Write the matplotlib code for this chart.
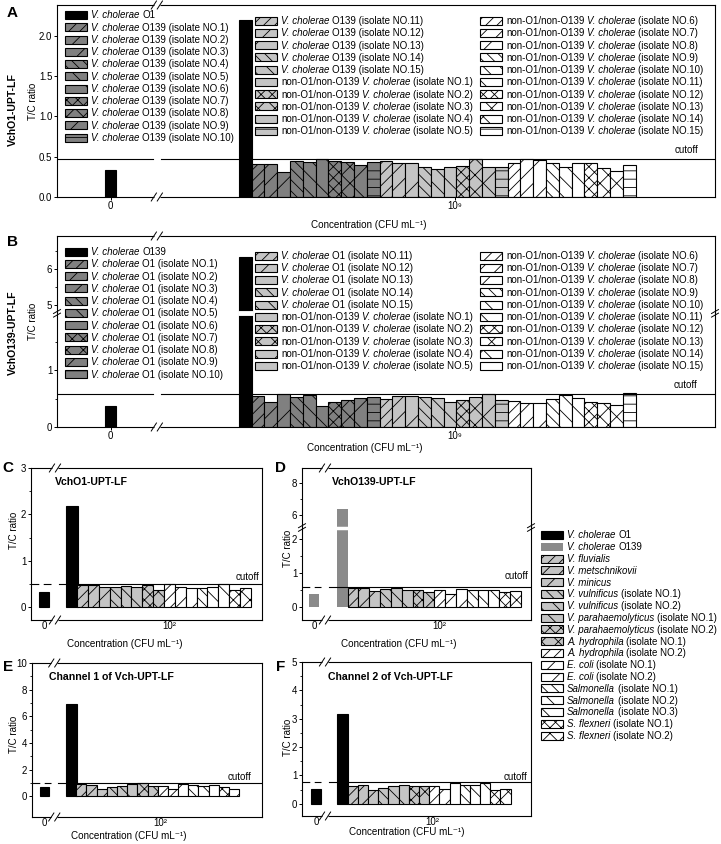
import numpy as np
import matplotlib
matplotlib.use('Agg')
import matplotlib.pyplot as plt
from matplotlib.patches import Rectangle

plt.rcParams.update({
    'font.family': ['Liberation Sans', 'DejaVu Sans'],
    'hatch.linewidth': 0.6,
    'axes.linewidth': 0.8,
    'xtick.labelsize': 7, 'ytick.labelsize': 7,
    'xtick.major.size': 2.0, 'ytick.major.size': 2.2,
    'ytick.minor.size': 1.4, 'xtick.minor.size': 0,
    'xtick.major.width': 0.7, 'ytick.major.width': 0.7, 'ytick.minor.width': 0.6,
    'xtick.major.pad': 1.2, 'ytick.major.pad': 1.2,
})

# ------------------------------------------------------------------ data
# Panel A : VchO1-UPT-LF, 10^9 CFU/mL
a_neg = 0.34
a_target = 2.19                       # V. cholerae O1
a_o139 = [0.414, 0.405, 0.31, 0.45, 0.435, 0.47, 0.447, 0.43, 0.40, 0.435,
          0.443, 0.418, 0.42, 0.37, 0.35]
a_non = [0.37, 0.39, 0.467, 0.37, 0.377, 0.418, 0.465, 0.46, 0.418, 0.377,
         0.42, 0.418, 0.36, 0.328, 0.398]
a_cutoff = 0.47

# Panel B : VchO139-UPT-LF, 10^9 CFU/mL
b_neg = 0.37
b_target = 6.35                       # V. cholerae O139
b_o1 = [0.547, 0.435, 0.576, 0.535, 0.565, 0.376, 0.447, 0.476, 0.506, 0.535,
        0.488, 0.553, 0.553, 0.535, 0.506]
b_non = [0.435, 0.476, 0.535, 0.576, 0.476, 0.465, 0.43, 0.418, 0.488, 0.565,
         0.506, 0.447, 0.418, 0.388, 0.60]
b_cutoff = 0.59

# Panels C-F : other species, 10^9 CFU/mL
species_names = ['V. fluvialis', 'V. metschnikovii', 'V. minicus',
                 'V. vulnificus', 'V. vulnificus',
                 'V. parahaemolyticus', 'V. parahaemolyticus',
                 'A. hydrophila', 'A. hydrophila', 'E. coli', 'E. coli',
                 'Salmonella', 'Salmonella', 'Salmonella',
                 'S. flexneri', 'S. flexneri']
species_isolates = ['', '', '', '(isolate NO.1)', '(isolate NO.2)',
                    '(isolate NO.1)', '(isolate NO.2)', '(isolate NO.1)', '(isolate NO.2)',
                    '(isolate NO.1)', '(isolate NO.2)', '(isolate NO.1)', '(isolate NO.2)',
                    '(isolate NO.3)', '(isolate NO.1)', '(isolate NO.2)']
c_neg, c_target, c_cutoff = 0.33, 2.19, 0.50
c_vals = [0.486, 0.486, 0.43, 0.43, 0.457, 0.43, 0.48, 0.37,
          0.50, 0.43, 0.42, 0.42, 0.436, 0.51, 0.386, 0.41]
d_neg, d_target, d_cutoff = 0.39, 6.36, 0.61
d_vals = [0.56, 0.58, 0.47, 0.53, 0.56, 0.50, 0.52, 0.44,
          0.50, 0.39, 0.53, 0.50, 0.50, 0.52, 0.46, 0.47]
e_neg, e_target, e_cutoff = 0.70, 6.95, 1.0
e_vals = [0.90, 0.85, 0.58, 0.70, 0.80, 0.90, 1.00, 0.80,
          0.80, 0.58, 0.95, 0.85, 0.80, 0.85, 0.70, 0.58]
f_neg, f_target, f_cutoff = 0.52, 3.16, 0.76
f_vals = [0.62, 0.66, 0.50, 0.57, 0.64, 0.66, 0.63, 0.64,
          0.62, 0.52, 0.73, 0.66, 0.66, 0.75, 0.48, 0.53]

# ------------------------------------------------------------------ figure
W, H = 721, 844
fig = plt.figure(figsize=(W / 100, H / 100), dpi=100)
RND = fig.canvas.get_renderer()


def add_ax(l, t, r, b):
    return fig.add_axes([l / W, 1 - b / H, (r - l) / W, (b - t) / H])


def fx(px):
    return px / W


def fy(py):
    return 1 - py / H


PAT10 = ['///', '//', '/', '\\\\\\', '\\\\', '\\', 'xxx', 'xx', 'x', '--']
PAT8 = ['///', '//', '/', '\\\\\\', '\\\\', '\\', 'xxx', 'xx']
DARK = '#808080'
LIGHT = '#c4c4c4'
O139GREY = '#8a8a8a'
EW = 0.8


def break_scale(b1, b2, k, eps=1e-3):
    c = b1 + (b2 - b1) * eps

    def fwd(y):
        y = np.asarray(y, dtype=float)
        return np.where(y <= b1, y, np.where(y < b2, b1 + (y - b1) * eps, c + (y - b2) * k))

    def inv(z):
        z = np.asarray(z, dtype=float)
        return np.where(z <= b1, z, np.where(z < c, b1 + (z - b1) / eps, b2 + (z - c) / k))
    return fwd, inv


def ax_px(ax):
    bb = ax.get_position()
    return bb.width * W, bb.height * H


def xbreak(ax, xb):
    wpx, hpx = ax_px(ax)
    x0, x1 = ax.get_xlim()
    xa = (xb - x0) / (x1 - x0)
    g = 3.0 / wpx
    w = 2.6 / wpx
    h = 4.0 / hpx
    for ya in (0, 1):
        ax.plot([xa - g, xa + g], [ya, ya], transform=ax.transAxes, color='white',
                lw=2.5, clip_on=False, zorder=10, solid_capstyle='butt')
        for s in (-g, g):
            ax.plot([xa + s - w, xa + s + w], [ya - h, ya + h], transform=ax.transAxes,
                    color='black', lw=0.7, clip_on=False, zorder=11)


def ybreak(ax, yb):
    wpx, hpx = ax_px(ax)
    ya = ax.transAxes.inverted().transform(ax.transData.transform((ax.get_xlim()[0], yb)))[1]
    w = 3.5 / wpx
    h = 2.0 / hpx
    s = 1.8 / hpx
    for xa in (0, 1):
        for o in (-s, s):
            ax.plot([xa - w, xa + w], [ya + o - h, ya + o + h], transform=ax.transAxes,
                    color='black', lw=0.7, clip_on=False, zorder=11)


def style_ax(ax):
    for sp in ax.spines.values():
        sp.set_linewidth(0.8)
    ax.tick_params(axis='both', which='both', direction='out')


def manual_legend(entries, x_icon, y_first, dy, fs=7.0, iw=22, ih=8, gap=4):
    """entries: list of (facecolor, hatch, edgecolor, [(text, italic), ...])"""
    sp = 0.278 * fs * 100 / 72
    for k, (fc, hatch, ec, parts) in enumerate(entries):
        yc = y_first + k * dy
        fig.add_artist(Rectangle((fx(x_icon), fy(yc + ih / 2)), iw / W, ih / H,
                                 transform=fig.transFigure, facecolor=fc, edgecolor=ec,
                                 hatch=hatch, linewidth=EW))
        x = x_icon + iw + gap
        for txt, it in parts:
            t = fig.text(fx(x), fy(yc + 3.4), txt, fontsize=fs,
                         style='italic' if it else 'normal', va='baseline', ha='left')
            x += t.get_window_extent(RND).width + sp


VCH = 'V. cholerae'

# ------------------------------------------------------------------ panels A, B


def wide_panel(ax, neg, target, g1, g2, cutoff, xt):
    X_NEG, XMIN, XMAX, XBRK = -10.5, -14.7, 36.7, -6.9
    ax.set_xlim(XMIN, XMAX)
    ax.bar(X_NEG, neg, width=0.85, color='black', edgecolor='black', linewidth=EW, zorder=2)
    ax.bar(0, target, width=1, color='black', edgecolor='black', linewidth=EW, zorder=2)
    styles = [('black', None, 'black')]
    vals = list(g1) + list(g2)
    for i, v in enumerate(vals):
        grp, j = divmod(i, 10)
        fc = [DARK, LIGHT, 'white'][grp]
        ax.bar(i + 1, v, width=1, facecolor=fc, edgecolor='black', hatch=PAT10[j],
               linewidth=EW, zorder=2)
        styles.append((fc, PAT10[j], 'black'))
    ax.plot([XMIN, XBRK - 0.3], [cutoff, cutoff], color='black', lw=0.8, zorder=4)
    ax.plot([XBRK + 0.3, XMAX], [cutoff, cutoff], color='black', lw=0.8, zorder=4)
    ax.set_xticks([X_NEG, 16.4], ['0', xt])
    style_ax(ax)
    xbreak(ax, XBRK)
    return styles


def wide_legends(styles, parts, y1, y23, dy=12.25):
    ents = [s + (p,) for s, p in zip(styles, parts)]
    manual_legend(ents[0:11], 65, y1, dy)
    manual_legend(ents[11:21], 255, y23, dy)
    manual_legend(ents[21:31], 480, y23, dy)


# A
axA = add_ax(57, 5, 715, 197)
axA.set_ylim(0, 2.38)
axA.set_yticks([0, 0.5, 1.0, 1.5, 2.0], ['0.0', '0.5', '1.0', '1.5', '2.0'])
stA = wide_panel(axA, a_neg, a_target, a_o139, a_non, a_cutoff, '10\u2079')
partsA = ([[(VCH, True), ('O1', False)]]
          + [[(VCH, True), ('O139 (isolate NO.%d)' % n, False)] for n in range(1, 16)]
          + [[('non-O1/non-O139', False), (VCH, True), ('(isolate NO.%d)' % n, False)]
             for n in range(1, 16)])
wide_legends(stA, partsA, 15, 20.7)

# B
axB = add_ax(57, 236, 715, 427)
axB.set_yscale('function', functions=break_scale(2.005, 4.77, 0.63))
axB.set_ylim(0, 6.93)
stB = wide_panel(axB, b_neg, b_target, b_o1, b_non, b_cutoff, '10\u2079')
axB.set_yticks([0, 1, 5, 6], ['0', '1', '5', '6'])
axB.set_yticks([0.5, 1.5, 5.5, 6.5], minor=True)
axB.plot([-0.6, 0.6], [2.005, 2.005], color='white', lw=3.5, zorder=5, solid_capstyle='butt')
ybreak(axB, 2.005)
partsB = ([[(VCH, True), ('O139', False)]]
          + [[(VCH, True), ('O1 (isolate NO.%d)' % n, False)] for n in range(1, 16)]
          + [[('non-O1/non-O139', False), (VCH, True), ('(isolate NO.%d)' % n, False)]
             for n in range(1, 16)])
wide_legends(stB, partsB, 251.7, 255.5)

# ------------------------------------------------------------------ panels C-F


def narrow_panel(ax, neg, target, vals, cutoff, tcolor, tedge, xlim, xneg, xbrk, xt):
    ax.set_xlim(*xlim)
    ax.bar(xneg, neg, width=0.92, color=tcolor, edgecolor=tedge, linewidth=EW, zorder=2)
    ax.bar(0, target, width=1.05, color=tcolor, edgecolor=tedge, linewidth=EW, zorder=2)
    styles = []
    for i, v in enumerate(vals):
        grp, j = divmod(i, 8)
        fc = [LIGHT, 'white'][grp]
        ax.bar(i + 1, v, width=1, facecolor=fc, edgecolor='black', hatch=PAT8[j],
               linewidth=EW, zorder=2)
        styles.append((fc, PAT8[j], 'black'))
    ax.plot([xlim[0], xbrk - 0.35], [cutoff, cutoff], color='black', lw=0.8, zorder=4,
            linestyle=(0, (7, 4)))
    ax.plot([xbrk + 0.35, xlim[1]], [cutoff, cutoff], color='black', lw=0.8, zorder=4)
    ax.set_xticks([xneg, xt], ['0', '10\u00b2'])
    style_ax(ax)
    ax.tick_params(axis='x', length=0, pad=0.6)
    xbreak(ax, xbrk)
    return styles


axC = add_ax(31, 468, 262, 620)
axC.set_ylim(-0.27, 3.0)
axC.set_yticks([0, 1, 2, 3])
axC.set_yticks([0.5, 1.5, 2.5], minor=True)
stCF = narrow_panel(axC, c_neg, c_target, c_vals, c_cutoff, 'black', 'black',
                    (-3.77, 17.54), -2.58, -1.56, 9.0)

axD = add_ax(302, 468, 531, 620)
axD.set_yscale('function', functions=break_scale(2.35, 5.22, 0.466))
axD.set_ylim(-0.37, 8.97)
narrow_panel(axD, d_neg, d_target, d_vals, d_cutoff, O139GREY, 'none',
             (-3.71, 17.43), -2.58, -1.59, 9.0)
axD.set_yticks([0, 1, 2, 6, 8])
axD.set_yticks([0.5, 1.5, 7], minor=True)
axD.plot([-0.6, 0.6], [2.35, 2.35], color='white', lw=2.5, zorder=5, solid_capstyle='butt')
ybreak(axD, 2.35)

axE = add_ax(32, 663, 262, 817)
axE.set_ylim(-1.55, 10)
axE.set_yticks([0, 2, 4, 6, 8, 10])
axE.set_yticks([1, 3, 5, 7, 9], minor=True)
narrow_panel(axE, e_neg, e_target, e_vals, e_cutoff, 'black', 'black',
             (-3.85, 18.75), -2.64, -1.66, 8.8)

axF = add_ax(302, 662, 531, 816)
axF.set_ylim(-0.43, 5)
axF.set_yticks([0, 1, 2, 3, 4, 5])
axF.set_yticks([0.5, 1.5, 2.5, 3.5, 4.5], minor=True)
narrow_panel(axF, f_neg, f_target, f_vals, f_cutoff, 'black', 'black',
             (-3.98, 18.5), -2.6, -1.72, 8.8)

# legend for C-F
entsCF = [('black', None, 'black', [(VCH, True), ('O1', False)]),
          (O139GREY, None, 'none', [(VCH, True), ('O139', False)])]
for st, nm, iso in zip(stCF, species_names, species_isolates):
    parts = [(nm, True)] + ([(iso, False)] if iso else [])
    entsCF.append(st + (parts,))
manual_legend(entsCF, 541, 535, 11.8)

# ------------------------------------------------------------------ texts
BOLD = dict(fontweight='bold')
for (x, y, s) in [(12, 13, 'A'), (13, 242, 'B'), (8, 468, 'C'), (281, 468, 'D'),
                  (8, 667, 'E'), (281, 667, 'F')]:
    fig.text(fx(x), fy(y), s, fontsize=11, fontweight='bold', ha='center', va='center')

fig.text(fx(13), fy(109), 'VchO1-UPT-LF', rotation=90, fontsize=7.6, ha='center', va='center', **BOLD)
fig.text(fx(13), fy(333), 'VchO139-UPT-LF', rotation=90, fontsize=7.6, ha='center', va='center', **BOLD)
for (x, y) in [(33, 101), (33, 321), (14, 530), (288, 548), (14, 734), (288, 737)]:
    fig.text(fx(x), fy(y), 'T/C ratio', rotation=90, fontsize=7.0, ha='center', va='center')

for (x, y, s) in [(55, 482, 'VchO1-UPT-LF'), (332, 482, 'VchO139-UPT-LF'),
                  (49, 677, 'Channel 1 of Vch-UPT-LF'), (328, 677, 'Channel 2 of Vch-UPT-LF')]:
    fig.text(fx(x), fy(y), s, fontsize=7.6, ha='left', va='center', **BOLD)

for (x, y) in [(698, 150), (697, 385), (259, 577), (528, 576), (251, 777), (527, 777)]:
    fig.text(fx(x), fy(y), 'cutoff', fontsize=7, ha='right', va='center')

XL = 'Concentration (CFU mL\u207b\u00b9)'
for (x, y) in [(369, 225), (365, 448), (125, 644), (399, 644), (129, 836), (407, 832)]:
    fig.text(fx(x), fy(y), XL, fontsize=7.1, ha='center', va='center')

fig.savefig('out.png', dpi=100)
